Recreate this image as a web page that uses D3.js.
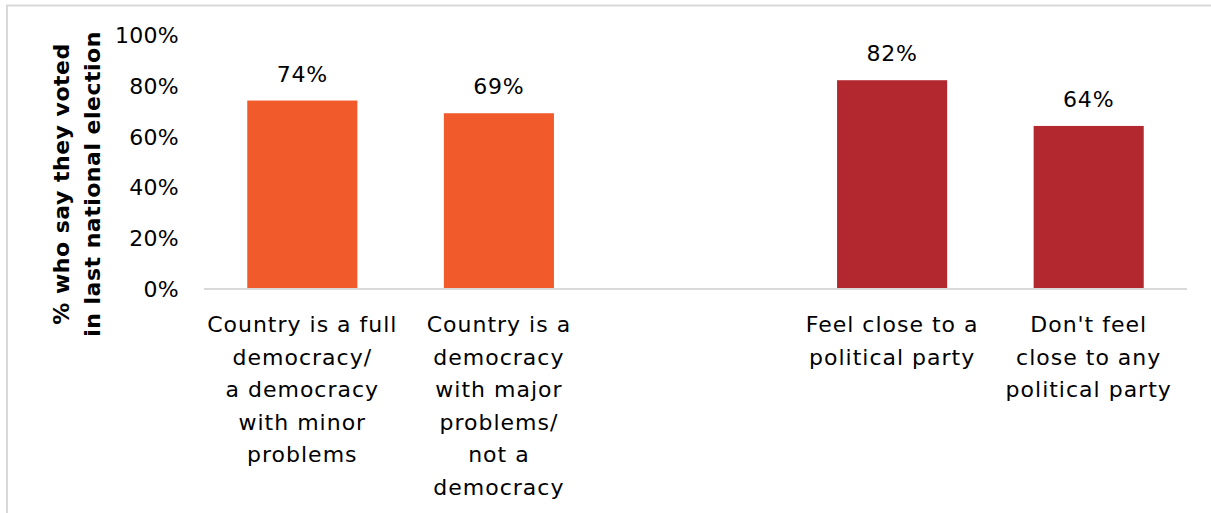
<!DOCTYPE html>
<html>
<head>
<meta charset="utf-8">
<script src="https://cdn.jsdelivr.net/npm/d3@7"></script>
<style>
  html, body { margin: 0; padding: 0; background: #fff; }
  svg { display: block; }
  text { font-family: "DejaVu Sans", "Noto Sans", sans-serif; fill: #000; }
</style>
</head>
<body>
<svg id="chart" width="1211" height="513"></svg>
<script>
// Share who say they voted in the last national election, by group
const categories = [
  "Country is a full\ndemocracy/\na democracy\nwith minor\nproblems",
  "Country is a\ndemocracy\nwith major\nproblems/\nnot a\ndemocracy",
  "Feel close to a\npolitical party",
  "Don't feel\nclose to any\npolitical party"
];
const values = [74, 69, 82, 64];
const groups = ["democracy", "democracy", "party", "party"];
const tickValues = [0, 20, 40, 60, 80, 100];
const axisTitle = ["% who say they voted", "in last national election"];

const colors = { democracy: "#F15A2B", party: "#B3282F" };

// Slot order, with an empty slot separating the two groups
const slots = [categories[0], categories[1], "__gap__", categories[2], categories[3]];

const svg = d3.select("#chart");
const W = 1211, H = 513;
const plot = { left: 204, right: 1187, top: 34.5, bottom: 288.5 };

// Frame
svg.append("rect")
  .attr("x", 7).attr("y", 5.5)
  .attr("width", W + 10).attr("height", H + 10)
  .attr("fill", "none").attr("stroke", "#d9d9d9").attr("stroke-width", 2);

const x = d3.scaleBand()
  .domain(slots)
  .range([plot.left, plot.right])
  .paddingInner(0.44)
  .paddingOuter(0.22);

const y = d3.scaleLinear()
  .domain([0, 100])
  .range([plot.bottom, plot.top]);

// Y axis tick labels
const yAxis = d3.axisLeft(y)
  .tickValues(tickValues)
  .tickFormat(d => d + "%")
  .tickSize(0)
  .tickPadding(0);

const yG = svg.append("g")
  .attr("transform", `translate(179,0)`)
  .call(yAxis);
yG.select(".domain").remove();
yG.selectAll("text")
  .attr("font-size", 22)
  .attr("font-family", "DejaVu Sans")
  .attr("letter-spacing", 0.3)
  .attr("fill", "#000")
  .attr("dy", "0.36em");

// Y axis title (two lines, rotated)
const title = svg.append("text")
  .attr("transform", `translate(77,184) rotate(-90)`)
  .attr("text-anchor", "middle")
  .attr("font-weight", "bold")
  .attr("font-size", 22)
  .attr("letter-spacing", 0.5);
axisTitle.forEach((t, i) => {
  title.append("tspan")
    .attr("x", 0)
    .attr("y", i === 0 ? -8 : 23)
    .text(t);
});

// Bars
const data = categories.map((c, i) => ({ cat: c, value: values[i], group: groups[i] }));

svg.append("g").selectAll("rect")
  .data(data)
  .join("rect")
  .attr("x", d => x(d.cat))
  .attr("y", d => y(d.value))
  .attr("width", x.bandwidth())
  .attr("height", d => y(0) - y(d.value))
  .attr("fill", d => colors[d.group]);

// Baseline
svg.append("line")
  .attr("x1", plot.left).attr("x2", plot.right)
  .attr("y1", plot.bottom + 0.5).attr("y2", plot.bottom + 0.5)
  .attr("stroke", "#d9d9d9").attr("stroke-width", 2);

// Value labels
svg.append("g").selectAll("text")
  .data(data)
  .join("text")
  .attr("x", d => x(d.cat) + x.bandwidth() / 2)
  .attr("y", d => y(d.value) - 19)
  .attr("text-anchor", "middle")
  .attr("font-size", 22)
  .attr("letter-spacing", 0.8)
  .text(d => d.value + "%");

// Category labels
const labels = svg.append("g").selectAll("text")
  .data(data)
  .join("text")
  .attr("text-anchor", "middle")
  .attr("font-size", 22)
  .attr("letter-spacing", 1)
  .attr("transform", d => `translate(${x(d.cat) + x.bandwidth() / 2},332)`);
labels.each(function(d) {
  const t = d3.select(this);
  d.cat.split("\n").forEach((line, i) => {
    t.append("tspan").attr("x", 0).attr("y", i * 32.5).text(line);
  });
});
</script>
</body>
</html>
